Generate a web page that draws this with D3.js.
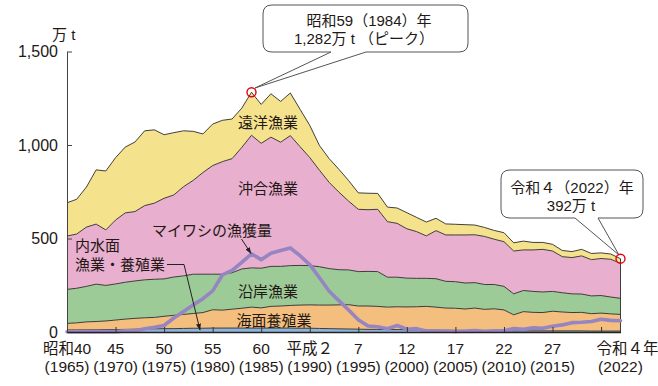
<!DOCTYPE html>
<html><head><meta charset="utf-8">
<script src="https://cdn.jsdelivr.net/npm/d3@7"></script>
<style>
body{margin:0;background:#fff;}
text{font-family:"Liberation Sans","Noto Sans CJK JP",sans-serif;fill:#231815;}
</style></head><body>
<svg id="c" width="658" height="386"></svg>
<script>
const years = [1965,1966,1967,1968,1969,1970,1971,1972,1973,1974,1975,1976,1977,1978,1979,1980,1981,1982,1983,1984,1985,1986,1987,1988,1989,1990,1991,1992,1993,1994,1995,1996,1997,1998,1999,2000,2001,2002,2003,2004,2005,2006,2007,2008,2009,2010,2011,2012,2013,2014,2015,2016,2017,2018,2019,2020,2021,2022];
// 内水面漁業・養殖業 (万t)
const inland = [11,11,12,12,13,13,14,15,16,17,18,18,19,20,20,21,21,21,21,21,21,21,21,21,20,20,19,18,17,16,15,14,14,13,13,12,11,10,10,9,9,8,8,8,8,7,6,6,6,6,6,6,6,6,5,5,5,5];
// 海面養殖業
const marineAqua = [35,38,42,44,46,51,55,58,60,61,66,71,75,79,84,98,96,101,106,112,108,116,118,121,124,125,125,126,128,130,124,125,123,120,122,122,124,127,123,119,118,115,120,113,116,111,86,103,99,98,105,101,98,99,93,96,92,89];
// 沿岸漁業
const coastal = [182,185,190,200,190,193,197,200,203,204,200,205,206,210,205,190,192,195,210,210,212,214,212,213,212,210,205,195,188,186,184,185,186,160,158,154,152,150,152,143,142,139,136,133,130,126,112,113,112,110,106,103,100,98,95,94,90,86];
// 沖合漁業
const offshore = [285,290,317,321,297,342,371,371,397,407,431,439,477,502,544,581,602,610,650,709,668,691,664,695,635,578,516,461,415,368,333,330,333,297,288,264,250,227,257,248,250,257,256,257,242,239,229,217,222,228,216,193,194,204,194,198,202,187];
// 遠洋漁業
const distant = [178,186,214,290,315,333,352,372,400,392,340,333,299,262,206,222,221,212,210,230,208,232,218,228,200,172,132,127,122,110,88,88,85,78,82,86,76,74,66,59,57,55,52,48,47,48,44,47,40,37,36,33,32,35,33,30,28,25];
// マイワシの漁獲量
const sardine = [1,1,2,2,2,2,6,6,17,25,35,75,110,145,178,220,305,329,372,418,387,421,436,449,408,360,290,218,168,118,66,32,28,17,35,15,18,5,5,5,3,5,8,4,6,7,18,14,22,20,31,38,50,52,56,68,62,60];

const layerKeys = ["inland","marineAqua","coastal","offshore","distant"];
const layerColors = ["#8db3d9","#f4be7e","#9dcb98","#e9afcf","#f5e28c"];
const yTicks = [0,500,1000,1500];
const xLabelYears = [1965,1970,1975,1980,1985,1990,1995,2000,2005,2010,2015,2022];
const xLabelTop = ["昭和40","45","50","55","60","平成２","7","12","17","22","27","令和４年"];
const xLabelBottom = ["(1965)","(1970)","(1975)","(1980)","(1985)","(1990)","(1995)","(2000)","(2005)","(2010)","(2015)","(2022)"];
const xTickMarks = [1970,1975,1980,1985,1990,1995,2000,2005,2010,2015,2020];

const rows = years.map((yr,i)=>({year:yr,inland:inland[i],marineAqua:marineAqua[i],coastal:coastal[i],offshore:offshore[i],distant:distant[i]}));

const svg = d3.select("#c");
const x = d3.scaleLinear().domain([1965,2022]).range([67,620.5]);
const y = d3.scaleLinear().domain([0,1500]).range([332,51.5]);

const stack = d3.stack().keys(layerKeys)(rows);
const area = d3.area().x(d=>x(d.data.year)).y0(d=>y(d[0])).y1(d=>y(d[1]));
const topLine = d3.line().x(d=>x(d.data.year)).y(d=>y(d[1]));

svg.append("g").selectAll("path").data(stack).join("path")
  .attr("d",area).attr("fill",(d,i)=>layerColors[i]);
svg.append("g").selectAll("path").data(stack).join("path")
  .attr("d",topLine).attr("fill","none").attr("stroke","#2b2b2b").attr("stroke-width",0.9);

// right edge
const last = stack[stack.length-1][years.length-1];
svg.append("line").attr("x1",x(2022)).attr("x2",x(2022)).attr("y1",y(last[1])).attr("y2",y(0))
  .attr("stroke","#2b2b2b").attr("stroke-width",0.9);

// sardine line
svg.append("path").datum(years.map((yr,i)=>[yr,sardine[i]]))
  .attr("d",d3.line().x(d=>x(d[0])).y(d=>y(d[1])))
  .attr("fill","none").attr("stroke","#9785c2").attr("stroke-width",3.6)
  .attr("stroke-linejoin","round").attr("stroke-linecap","round");

// y axis
const yAxis = d3.axisLeft(y).tickValues(yTicks).tickSizeInner(-5).tickSizeOuter(0).tickPadding(9)
  .tickFormat(d3.format(","));
const yg = svg.append("g").attr("transform","translate(67,0)").call(yAxis);
yg.select(".domain").attr("stroke","#444").attr("stroke-width",1);
yg.selectAll(".tick line").attr("stroke","#444");
yg.selectAll(".tick text").attr("font-size",16).attr("font-family",null).attr("fill","#231815");

// x axis
const xAxis = d3.axisBottom(x).tickValues(xTickMarks).tickSizeInner(-5).tickSizeOuter(0).tickFormat("");
const xg = svg.append("g").attr("transform","translate(0,332)").call(xAxis);
xg.select(".domain").attr("stroke","#222").attr("stroke-width",1.6);
xg.selectAll(".tick line").attr("stroke","#333");

const xl = svg.append("g");
xLabelYears.forEach((yr,i)=>{
  xl.append("text").attr("x",x(yr)+(i===xLabelYears.length-1?7:0)).attr("y",354).attr("text-anchor","middle")
    .attr("font-size",15.5).text(xLabelTop[i]);
  xl.append("text").attr("x",x(yr)).attr("y",372).attr("text-anchor","middle")
    .attr("font-size",15.5).text(xLabelBottom[i]);
});

svg.append("text").attr("x",52).attr("y",40).attr("font-size",15).text("万 t");

// layer labels
const lab = (t,cx,cy,anchor)=>svg.append("text").attr("x",cx).attr("y",cy).attr("text-anchor",anchor||"middle")
  .attr("dominant-baseline","central").attr("font-size",15).text(t);
lab("遠洋漁業",268,122);
lab("沖合漁業",268,188);
lab("マイワシの漁獲量",212,230);
lab("内水面",75,245,"start");
lab("漁業・養殖業",75,264,"start");
lab("沿岸漁業",268,291);
lab("海面養殖業",274,320);

// arrows
const defs = svg.append("defs");
defs.append("marker").attr("id","ah").attr("viewBox","0 0 10 10").attr("refX",9).attr("refY",5)
  .attr("markerWidth",7).attr("markerHeight",7).attr("orient","auto")
  .append("path").attr("d","M0,1.5L10,5L0,8.5Z").attr("fill","#222");
svg.append("path").attr("d","M241.5,239L251,253.5").attr("stroke","#222").attr("stroke-width",1)
  .attr("fill","none").attr("marker-end","url(#ah)");
svg.append("path").attr("d","M167,264.5H184L200,330").attr("stroke","#222").attr("stroke-width",1)
  .attr("fill","none").attr("marker-end","url(#ah)");

// callouts
function bubble(x0,x1,y0,y1,r,xa,xb,tx,ty){
  return `M${x0+r},${y0}H${x1-r}Q${x1},${y0} ${x1},${y0+r}V${y1-r}Q${x1},${y1} ${x1-r},${y1}H${xb}L${tx},${ty}L${xa},${y1}H${x0+r}Q${x0},${y1} ${x0},${y1-r}V${y0+r}Q${x0},${y0} ${x0+r},${y0}Z`;
}
svg.append("path").attr("d",bubble(263,468,5,52,9,331,366,255,88)).attr("fill","#fff").attr("stroke","#555").attr("stroke-width",1);
svg.append("path").attr("d",bubble(501,643,170,218,9,575,598,619,255)).attr("fill","#fff").attr("stroke","#555").attr("stroke-width",1);

svg.append("circle").attr("cx",x(1984)).attr("cy",y(1282)).attr("r",4.5).attr("fill","none").attr("stroke","#e60012").attr("stroke-width",1.4);
svg.append("circle").attr("cx",x(2022)).attr("cy",y(392)).attr("r",4.5).attr("fill","none").attr("stroke","#e60012").attr("stroke-width",1.4);

lab("昭和59（1984）年",369,20);
lab("1,282万 t （ピーク）",364,38);
lab("令和４（2022）年",572,187);
lab("392万 t",571,205);
</script></body></html>
